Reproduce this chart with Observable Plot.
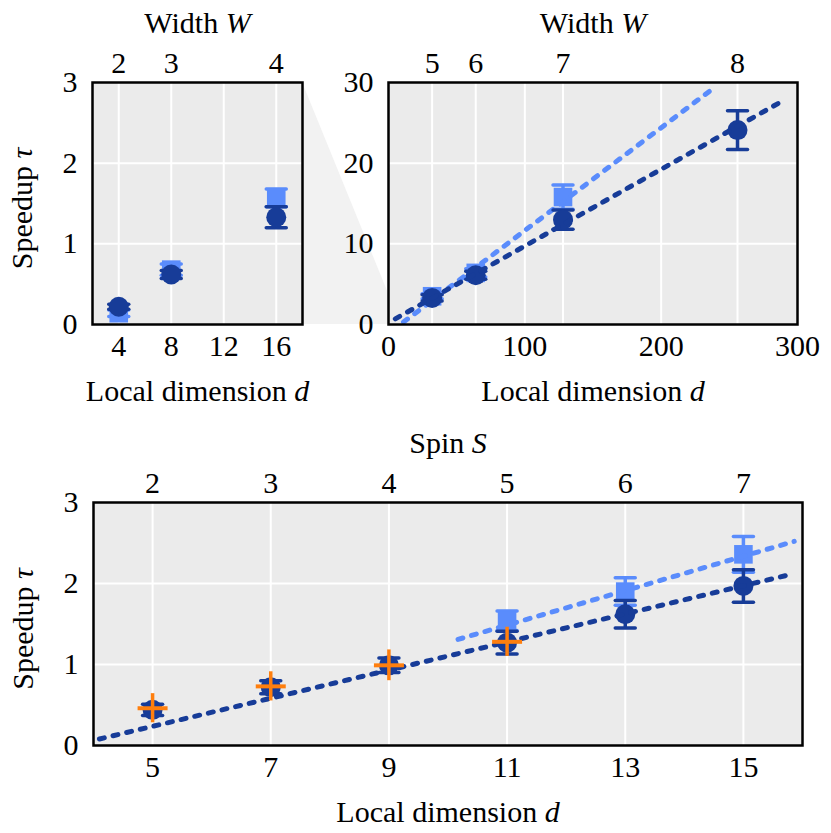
<!DOCTYPE html>
<html>
<head>
<meta charset="utf-8">
<script src="https://cdn.jsdelivr.net/npm/d3@7"></script>
<script src="https://cdn.jsdelivr.net/npm/@observablehq/plot@0.6"></script>
</head>
<body style="margin:0">
<div id="wrap" style="position:relative;width:831px;height:833px"></div>
<script>
// ---------------- data ----------------
// top-left panel (zoomed-in region)
const dSmall = [4, 8, 16];
const wSmall = [2, 3, 4];
const tauDarkSmall = [0.22, 0.62, 1.33];
const errDarkSmall = [0.03, 0.05, 0.13];
const tauLightSmall = [0.14, 0.68, 1.57];
const errLightSmall = [0.04, 0.07, 0.11];

// top-right panel
const dLarge = [32, 64, 128, 256];
const wLarge = [5, 6, 7, 8];
const tauDarkLarge = [3.3, 6.1, 13.0, 24.1];
const errDarkLarge = [0.4, 0.5, 1.2, 2.4];
const dLightLarge = [32, 64, 128];
const tauLightLarge = [3.5, 6.4, 15.8];
const errLightLarge = [0.3, 0.5, 1.5];
const fitDarkLargeD = [5, 290];
const fitDarkLargeTau = [0.7, 27.8];
const fitLightLargeD = [11, 240];
const fitLightLargeTau = [0.3, 29.5];

// bottom panel
const dSpin = [5, 7, 9, 11, 13, 15];
const spinS = [2, 3, 4, 5, 6, 7];
const tauDarkSpin = [0.44, 0.72, 0.99, 1.27, 1.62, 1.97];
const errDarkSpin = [0.07, 0.08, 0.09, 0.14, 0.17, 0.2];
const dLightSpin = [11, 13, 15];
const tauLightSpin = [1.54, 1.9, 2.36];
const errLightSpin = [0.12, 0.17, 0.22];
const dOrange = [5, 7, 9, 11];
const tauOrange = [0.46, 0.73, 0.99, 1.28];
const errOrange = [0.18, 0.18, 0.19, 0.18];
const fitDarkSpinD = [4.1, 15.85];
const fitDarkSpinTau = [0.08, 2.12];
const fitLightSpinD = [10.17, 15.86];
const fitLightSpinTau = [1.31, 2.52];

// ---------------- style ----------------
const DARK = "#173c98";
const LIGHT = "#5a8cfc";
const ORANGE = "#ff7f0e";
const BG = "#ebebeb";
const FONT = "'Liberation Serif', 'Times New Roman', Tinos, 'DejaVu Serif', serif";

const rows = (xs, ys, es) => xs.map((x, i) => ({x, y: ys[i], e: es ? es[i] : 0}));
const capSymbol = (hw) => ({draw(ctx) { ctx.moveTo(-hw, 0); ctx.lineTo(hw, 0); }});

function errMarks(data, color, markerSymbol, r) {
  return [
    Plot.ruleX(data, {x: "x", y1: d => d.y - d.e, y2: d => d.y + d.e, stroke: color, strokeWidth: 3.5}),
    Plot.dot(data, {x: "x", y: d => d.y + d.e, symbol: capSymbol(10), stroke: color, strokeWidth: 3.5, fill: "none", strokeLinecap: "round"}),
    Plot.dot(data, {x: "x", y: d => d.y - d.e, symbol: capSymbol(10), stroke: color, strokeWidth: 3.5, fill: "none", strokeLinecap: "round"}),
    Plot.dot(data, {x: "x", y: "y", symbol: markerSymbol, r, fill: color, stroke: "none"})
  ];
}
function fitLine(xs, ys, color) {
  return Plot.line(rows(xs, ys), {x: "x", y: "y", stroke: color, strokeWidth: 5,
    strokeDasharray: "5,9", strokeLinecap: "round"});
}
function crossMarks(data, color) {
  return [
    Plot.ruleX(data, {x: "x", y1: d => d.y - d.e, y2: d => d.y + d.e, stroke: color, strokeWidth: 3.5}),
    Plot.dot(data, {x: "x", y: "y", symbol: capSymbol(15), stroke: color, strokeWidth: 4, fill: "none"})
  ];
}

function panel(o) {
  const marks = [
    Plot.frame({fill: BG}),
    Plot.ruleX(o.gridX, {stroke: "white", strokeWidth: 2}),
    Plot.ruleY(o.gridY, {stroke: "white", strokeWidth: 2}),
    Plot.axisX({ticks: o.xTicks, tickSize: 0, tickPadding: 10, label: null, tickFormat: d => String(d)}),
    Plot.axisX({anchor: "top", ticks: o.topTicks, tickSize: 0, tickPadding: 10, label: null,
      tickFormat: d => String(o.topLabels[o.topTicks.indexOf(d)])}),
    Plot.axisY({ticks: o.yTicks, tickSize: 0, tickPadding: 15, label: null, tickFormat: d => String(d)}),
    ...o.marks,
    Plot.frame({stroke: "black", strokeWidth: 2.5}),
    Plot.text([o.topTitle], {text: d => d, frameAnchor: "top", dy: -50, lineAnchor: "bottom", textAnchor: "middle"}),
    Plot.text([o.xTitle], {text: d => d, frameAnchor: "bottom", dy: 76, lineAnchor: "bottom", textAnchor: "middle"})
  ];
  if (o.yTitle) marks.push(Plot.text([o.yTitle], {text: d => d, frameAnchor: "left", dx: -61, dy: 5, rotate: -90, lineAnchor: "bottom", textAnchor: "middle"}));
  const p = Plot.plot({
    width: o.width, height: o.height,
    marginLeft: o.ml, marginRight: o.mr, marginTop: o.mt, marginBottom: o.mb,
    x: {domain: o.xDomain},
    y: {domain: o.yDomain},
    style: {fontFamily: FONT, fontSize: "30px"},
    marks
  });
  p.setAttribute("font-family", FONT);
  p.style.position = "absolute";
  p.style.left = o.left + "px";
  p.style.top = o.top + "px";
  p.style.background = "transparent";
  p.querySelectorAll("text").forEach(t => {
    const m = /^(.+ )(\S)$/.exec(t.textContent);
    if (!m || t.querySelector("tspan")) return;
    t.textContent = "";
    t.appendChild(document.createTextNode(m[1]));
    const ts = document.createElementNS("http://www.w3.org/2000/svg", "tspan");
    ts.setAttribute("font-style", "italic");
    ts.textContent = m[2];
    t.appendChild(ts);
  });
  return p;
}

const wrap = document.getElementById("wrap");

const p1 = panel({
  left: 0, top: 0, width: 330, height: 410, ml: 92, mr: 28, mt: 82, mb: 86,
  xDomain: [2, 18], yDomain: [0, 3],
  xTicks: [4, 8, 12, 16], yTicks: [0, 1, 2, 3],
  topTicks: dSmall, topLabels: wSmall,
  gridX: [4, 8, 12, 16], gridY: [1, 2],
  topTitle: "Width W", xTitle: "Local dimension d", yTitle: "Speedup τ",
  marks: [
    ...errMarks(rows(dSmall, tauLightSmall, errLightSmall), LIGHT, "square", 10.5),
    ...errMarks(rows(dSmall, tauDarkSmall, errDarkSmall), DARK, "circle", 10)
  ]
});

const p2 = panel({
  left: 330, top: 0, width: 501, height: 410, ml: 58, mr: 34, mt: 82, mb: 86,
  xDomain: [0, 300], yDomain: [0, 30],
  xTicks: [0, 100, 200, 300], yTicks: [0, 10, 20, 30],
  topTicks: dLarge, topLabels: wLarge,
  gridX: [32, 64, 100, 128, 200, 256], gridY: [10, 20],
  topTitle: "Width W", xTitle: "Local dimension d", yTitle: null,
  marks: [
    ...errMarks(rows(dLightLarge, tauLightLarge, errLightLarge), LIGHT, "square", 10.5),
    fitLine(fitLightLargeD, fitLightLargeTau, LIGHT),
    ...errMarks(rows(dLarge, tauDarkLarge, errDarkLarge), DARK, "circle", 10),
    fitLine(fitDarkLargeD, fitDarkLargeTau, DARK)
  ]
});

const p3 = panel({
  left: 0, top: 420, width: 831, height: 413, ml: 93, mr: 29, mt: 82, mb: 88,
  xDomain: [4, 16], yDomain: [0, 3],
  xTicks: dSpin, yTicks: [0, 1, 2, 3],
  topTicks: dSpin, topLabels: spinS,
  gridX: dSpin, gridY: [1, 2],
  topTitle: "Spin S", xTitle: "Local dimension d", yTitle: "Speedup τ",
  marks: [
    ...errMarks(rows(dLightSpin, tauLightSpin, errLightSpin), LIGHT, "square", 10.5),
    fitLine(fitLightSpinD, fitLightSpinTau, LIGHT),
    ...errMarks(rows(dSpin, tauDarkSpin, errDarkSpin), DARK, "circle", 10),
    fitLine(fitDarkSpinD, fitDarkSpinTau, DARK),
    ...crossMarks(rows(dOrange, tauOrange, errOrange), ORANGE)
  ]
});

// zoom connector, positioned from the panels' own scales
const sx1 = p1.scale("x"), sy1 = p1.scale("y"), sx2 = p2.scale("x"), sy2 = p2.scale("y");
const xL = 0 + sx1.apply(sx1.domain[1]);
const yLt = 0 + sy1.apply(sy1.domain[1]);
const yLb = 0 + sy1.apply(sy1.domain[0]);
const xR = 330 + sx2.apply(sx1.domain[0]);
const yRt = 0 + sy2.apply(sy1.domain[1]);
const yRb = 0 + sy2.apply(sy1.domain[0]);
const conn = document.createElementNS("http://www.w3.org/2000/svg", "svg");
conn.setAttribute("width", 831);
conn.setAttribute("height", 420);
conn.style.position = "absolute";
conn.style.left = "0px";
conn.style.top = "0px";
const poly = document.createElementNS("http://www.w3.org/2000/svg", "polygon");
poly.setAttribute("points", [[xL, yLt], [xR, yRt], [xR, yRb], [xL, yLb]].map(p => p.join(",")).join(" "));
poly.setAttribute("fill", "#f2f2f2");
conn.appendChild(poly);

wrap.appendChild(conn);
wrap.appendChild(p1);
wrap.appendChild(p2);
wrap.appendChild(p3);
</script>
</body>
</html>
